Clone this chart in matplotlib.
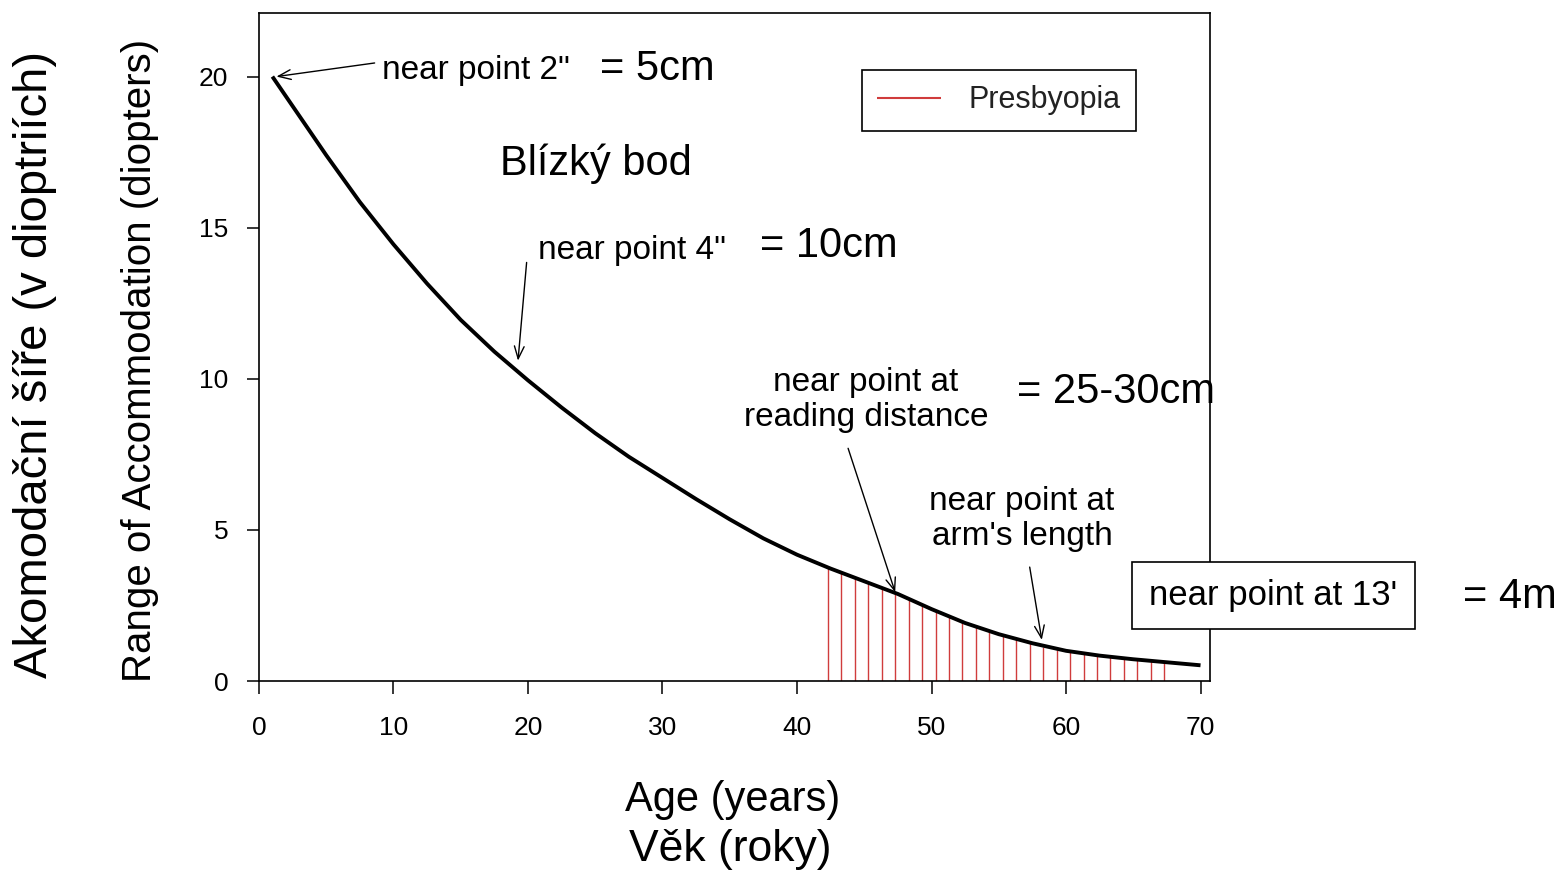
import matplotlib.pyplot as plt

plt.rcParams['font.family'] = ['Liberation Sans', 'DejaVu Sans']

# accommodation curve
ages = [1, 3, 5, 7.5, 10, 12.5, 15, 17.5, 20, 22.5, 25, 27.5, 30, 32.5, 35, 37.5,
        40, 42.5, 45, 47.5, 50, 52.5, 55, 57.5, 60, 62.5, 65, 67.5, 70]
diopters = [20.0, 18.7, 17.4, 15.85, 14.45, 13.15, 11.95, 10.9, 9.95, 9.05, 8.2,
            7.42, 6.72, 6.02, 5.35, 4.72, 4.18, 3.72, 3.3, 2.88, 2.38, 1.92, 1.55,
            1.25, 1.0, 0.84, 0.72, 0.62, 0.52]

# presbyopia hatching (red lines from axis up to the curve)
presb_ages = [42.3, 43.3, 44.3, 45.3, 46.3, 47.3, 48.3, 49.3, 50.3, 51.3, 52.3,
              53.3, 54.3, 55.3, 56.3, 57.3, 58.3, 59.3, 60.3, 61.3, 62.3, 63.3,
              64.3, 65.3, 66.3, 67.3]
presb_heights = [3.75, 3.58, 3.42, 3.25, 3.1, 2.94, 2.76, 2.56, 2.36, 2.17, 1.97,
                 1.81, 1.67, 1.54, 1.4, 1.26, 1.12, 1.04, 0.96, 0.89, 0.83, 0.78,
                 0.74, 0.70, 0.67, 0.64]

xticks = [0, 10, 20, 30, 40, 50, 60, 70]
yticks = [0, 5, 10, 15, 20]

fig = plt.figure(figsize=(15.58, 8.74), dpi=100)
ax = fig.add_axes([0.1662, 0.2208, 0.6104, 0.7642])

ax.vlines(presb_ages, 0, presb_heights, color='#d03c3c', lw=1.0, label='Presbyopia')
ax.plot(ages, diopters, color='black', lw=2.8, solid_capstyle='butt')

ax.set_xlim(0, 70.7)
ax.set_ylim(0, 22.1)
ax.set_xticks(xticks)
ax.set_yticks(yticks)
ax.tick_params(axis='x', direction='out', length=9, width=1.1, pad=16, labelsize=19)
ax.tick_params(axis='y', direction='out', length=9, width=1.1, pad=13, labelsize=19)
for s in ax.spines.values():
    s.set_linewidth(1.2)

leg = ax.legend(loc='upper left', bbox_to_anchor=(0.634, 0.9147), borderaxespad=0,
                fontsize=22, fancybox=False, framealpha=1, edgecolor='black',
                handlelength=2.1, borderpad=0.5, handletextpad=0.9)
leg.get_frame().set_linewidth(1.2)
leg.legend_handles[0].set_linewidth(1.5)
leg.get_texts()[0].set_color('#222222')

small = 24
big = 30
arrow = dict(arrowstyle='->,head_length=0.9,head_width=0.35', color='black', lw=1.0,
             shrinkA=0, shrinkB=0)

ax.annotate('', xy=(1.3, 20.0), xytext=(8.6, 20.45), arrowprops=arrow)
ax.text(9.15, 20.2, 'near point 2"', fontsize=small, ha='left', va='center')
ax.text(25.35, 20.26, '= 5cm', fontsize=big, ha='left', va='center')
ax.text(17.9, 17.1, 'Blízký bod', fontsize=big, ha='left', va='center')

ax.annotate('', xy=(19.26, 10.6), xytext=(19.9, 13.85), arrowprops=arrow)
ax.text(20.74, 14.25, 'near point 4"', fontsize=small, ha='left', va='center')
ax.text(37.25, 14.41, '= 10cm', fontsize=big, ha='left', va='center')

ax.annotate('', xy=(47.3, 2.94), xytext=(43.8, 7.7), arrowprops=arrow)
ax.text(45.13, 9.29, 'near point at\nreading distance', fontsize=small,
        ha='center', va='center', linespacing=1.17)
ax.text(56.36, 9.55, '= 25-30cm', fontsize=big, ha='left', va='center')

ax.annotate('', xy=(58.2, 1.36), xytext=(57.3, 3.77), arrowprops=arrow)
ax.text(56.73, 5.36, "near point at\narm's length", fontsize=small,
        ha='center', va='center', linespacing=1.17)

ax.text(75.4, 2.83, "near point at 13'", fontsize=25, ha='center', va='center',
        bbox=dict(boxstyle='square,pad=0.5', facecolor='white', edgecolor='black', lw=1.2))
fig.text(1463 / 1558, 1 - 597 / 874, '= 4m', fontsize=big, ha='left', va='center')

fig.text(140 / 1558, 1 - 360 / 874, 'Range of Accommodation (diopters)', fontsize=29,
         rotation=90, ha='center', va='center')
fig.text(35 / 1558, 1 - 365 / 874, 'Akomodační šíře (v dioptriích)', fontsize=34,
         rotation=90, ha='center', va='center')
fig.text(733 / 1558, 1 - 800 / 874, 'Age (years)', fontsize=30, ha='center', va='center')
fig.text(730 / 1558, 1 - 850 / 874, 'Věk (roky)', fontsize=32, ha='center', va='center')

fig.savefig('out.png', dpi=100)
